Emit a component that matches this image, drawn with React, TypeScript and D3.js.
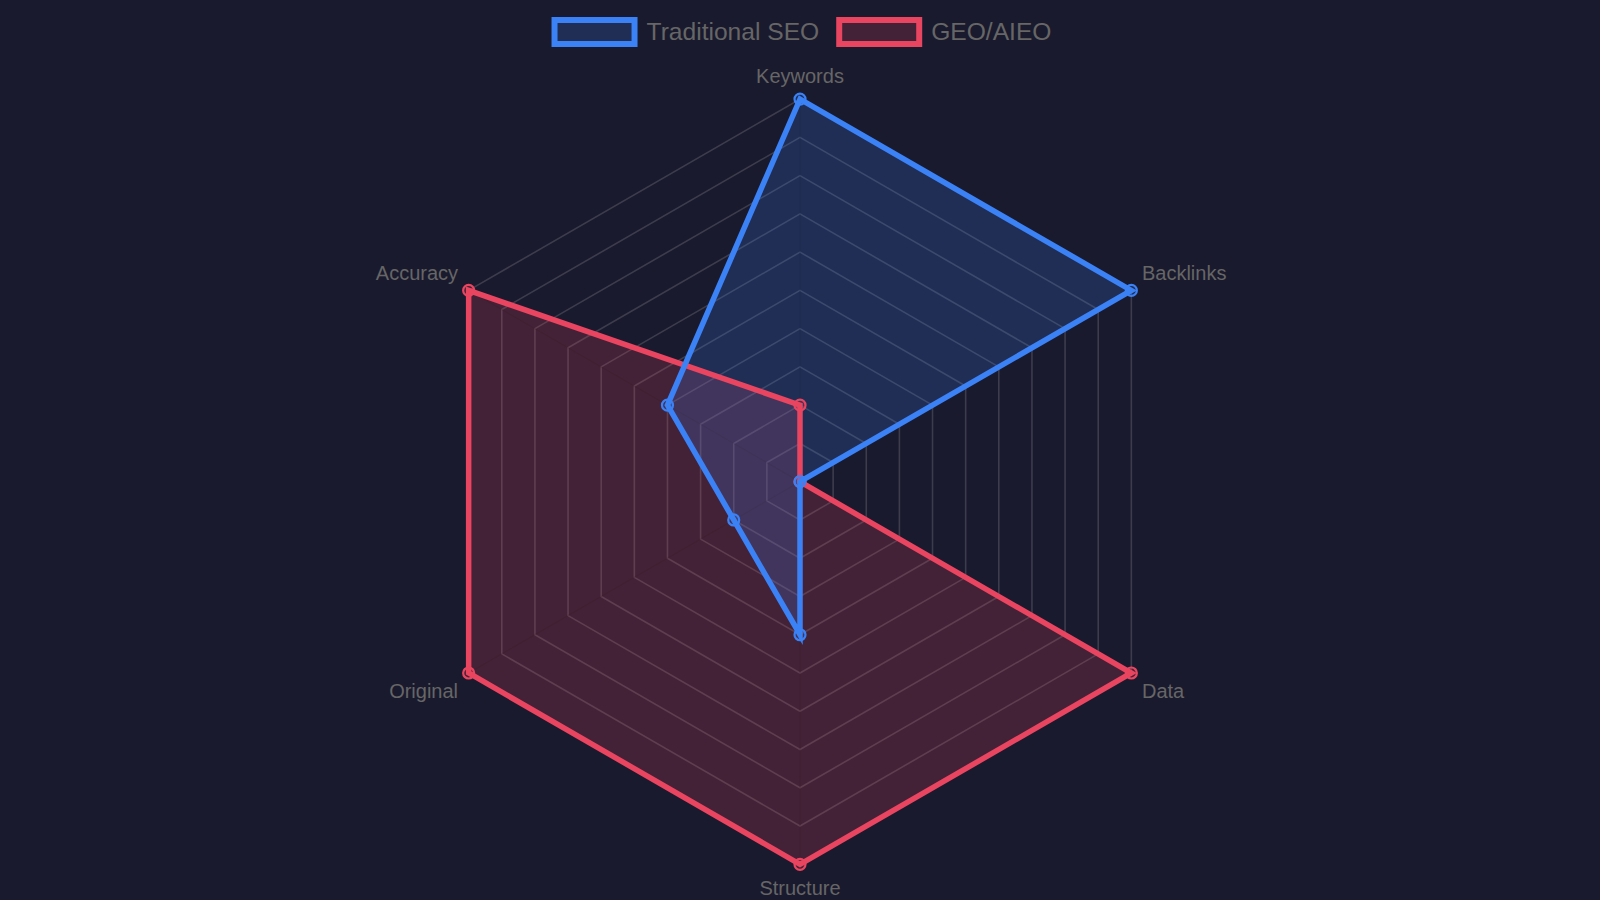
import React from "react";
import * as d3 from "d3";

const categories = ["Keywords", "Backlinks", "Data", "Structure", "Original", "Accuracy"];
const seoValues = [100, 100, 0, 40, 20, 40];
const geoValues = [20, 0, 100, 100, 100, 100];
const ticks = [10, 20, 30, 40, 50, 60, 70, 80, 90, 100];
const seriesNames = ["Traditional SEO", "GEO/AIEO"];

const W = 1600;
const H = 900;
const BG = "#1a1a2e";
const BLUE = "#3b82f6";
const RED = "#e94560";
const FONT = "'Liberation Sans', Arial, Helvetica, sans-serif";

const cx = 800;
const cy = 481.7;
const R = 382.6;

const rScale = d3.scaleLinear().domain([0, 100]).range([0, R]);
const angle = (i: number) => (i * 2 * Math.PI) / categories.length;

function pt(i: number, v: number): [number, number] {
  const r = rScale(v);
  const a = angle(i);
  return [cx + r * Math.sin(a), cy - r * Math.cos(a)];
}

function measure(text: string, size: number) {
  if (typeof document === "undefined") return text.length * size * 0.5;
  const c = document.createElement("canvas");
  const ctx = c.getContext("2d");
  if (!ctx) return text.length * size * 0.5;
  ctx.font = `${size}px ${FONT}`;
  return ctx.measureText(text).width;
}

export default function App() {
  const line = d3
    .line<[number, number]>()
    .x((d) => d[0])
    .y((d) => d[1])
    .curve(d3.curveLinearClosed);

  // drawn bottom to top: GEO/AIEO first, Traditional SEO on top
  const series = [
    { name: seriesNames[1], values: geoValues, color: RED },
    { name: seriesNames[0], values: seoValues, color: BLUE },
  ].map((s) => ({ ...s, pts: s.values.map((v, i) => pt(i, v)) }));

  // legend layout
  const legendFont = 24.6;
  const boxW = 80;
  const boxH = 24;
  const items = [
    { name: seriesNames[0], color: BLUE },
    { name: seriesNames[1], color: RED },
  ].map((d) => ({ ...d, w: boxW + 12 + measure(d.name, legendFont) }));
  const gap = 20;
  const totalW = items.reduce((s, d) => s + d.w, 0) + gap * (items.length - 1);
  let lx = cx - totalW / 2;
  const legendItems = items.map((d) => {
    const x = lx;
    lx += d.w + gap;
    return { ...d, x };
  });

  const labelPos = categories.map((c, i) => {
    const a = angle(i);
    const s = Math.sin(a);
    const co = Math.cos(a);
    const [vx, vy] = pt(i, 100);
    let anchor: "start" | "middle" | "end" = "middle";
    let x = vx;
    let y = vy;
    if (Math.abs(s) < 1e-6) {
      anchor = "middle";
      y = co > 0 ? vy - 16 : vy + 30.7;
    } else {
      anchor = s > 0 ? "start" : "end";
      x = vx + (s > 0 ? 10.6 : -10.6);
      y = co > 0 ? vy - 10 : vy + 25;
    }
    return { c, x, y, anchor };
  });

  return (
    <div style={{ position: "fixed", left: 0, top: 0, width: W, height: H, background: BG }}>
      <svg width={W} height={H} style={{ display: "block" }}>
        <rect x={0} y={0} width={W} height={H} fill={BG} />
        {/* grid rings */}
        {ticks.map((t) => (
          <path
            key={t}
            d={line(categories.map((_, i) => pt(i, t))) || ""}
            fill="none"
            stroke="rgba(255,255,255,0.15)"
            strokeWidth={1.6}
          />
        ))}
        {/* angle lines */}
        {categories.map((_, i) => {
          const [x, y] = pt(i, 100);
          return (
            <line key={i} x1={cx} y1={cy} x2={x} y2={y} stroke="rgba(0,0,0,0.12)" strokeWidth={1.6} />
          );
        })}
        {/* fills first */}
        {series.map((s) => (
          <path key={"f" + s.name} d={line(s.pts) || ""} fill={s.color} fillOpacity={0.2} stroke="none" />
        ))}
        {/* lines and points */}
        {series.map((s) => (
          <g key={s.name}>
            <path
              d={line(s.pts) || ""}
              fill="none"
              stroke={s.color}
              strokeWidth={5.5}
              strokeLinejoin="miter"
            />
            {s.pts.map((p, i) => (
              <circle
                key={i}
                cx={p[0]}
                cy={p[1]}
                r={5.5}
                fill={s.color}
                fillOpacity={0.2}
                stroke={s.color}
                strokeWidth={2.2}
              />
            ))}
          </g>
        ))}
        {/* point labels */}
        {labelPos.map((l) => (
          <text
            key={l.c}
            x={l.x}
            y={l.y}
            textAnchor={l.anchor}
            fontFamily={FONT}
            fontSize={20}
            fill="#666"
          >
            {l.c}
          </text>
        ))}
        {/* legend */}
        {legendItems.map((d) => (
          <g key={d.name}>
            <rect
              x={d.x + 3}
              y={20}
              width={boxW}
              height={boxH}
              fill={d.color}
              fillOpacity={0.2}
              stroke={d.color}
              strokeWidth={6}
            />
            <text x={d.x + 3 + boxW + 12} y={40} fontFamily={FONT} fontSize={legendFont} fill="#666">
              {d.name}
            </text>
          </g>
        ))}
      </svg>
    </div>
  );
}
